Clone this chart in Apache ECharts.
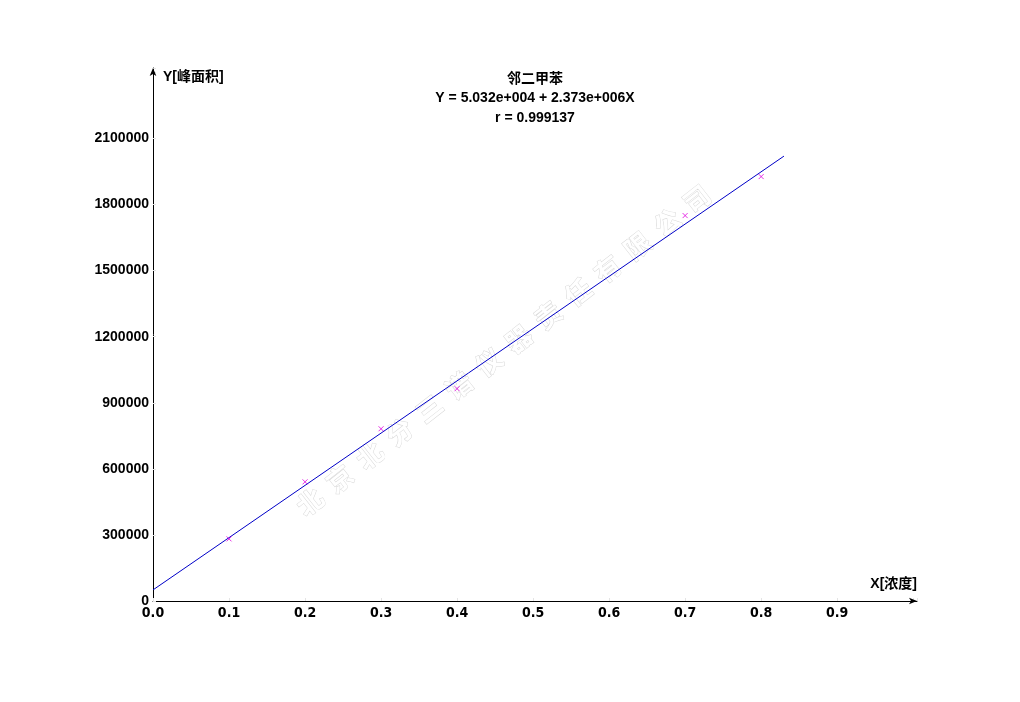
<!DOCTYPE html>
<html>
<head>
<meta charset="utf-8">
<script src="https://cdn.jsdelivr.net/npm/echarts@6/dist/echarts.min.js"></script>
<style>
  html, body { margin: 0; padding: 0; background: #fff; }
  #chart { width: 1020px; height: 702px; }
</style>
</head>
<body>
<div id="chart"></div>
<script>
// Calibration samples: concentration vs. peak area
const concentrations = [0.1, 0.2, 0.3, 0.4, 0.7, 0.8];
const peakAreas = [282000, 541000, 782000, 964000, 1750000, 1927000];

// Least-squares fit as reported in the header
const fitIntercept = 50320;
const fitSlope = 2373000;
const fitR = 0.999137;
const fitRange = [0, 0.83];

const yTickLabels = [0, 300000, 600000, 900000, 1200000, 1500000, 1800000, 2100000];
const xTickLabels = [0.0, 0.1, 0.2, 0.3, 0.4, 0.5, 0.6, 0.7, 0.8, 0.9];

const titleText = '邻二甲苯';
const watermarkText = '北京北分三谱仪器责任有限公司';

const latin = '"Liberation Sans", Arial, "Noto Sans CJK SC", sans-serif';
const narrow = '"DejaVu Sans Condensed", "Liberation Sans Narrow", "Liberation Sans", sans-serif';

const chart = echarts.init(document.getElementById('chart'));

const points = concentrations.map((x, i) => [x, peakAreas[i]]);
const fitLine = fitRange.map(x => [x, fitIntercept + fitSlope * x]);

function expFmt(v) {
  const e = Math.floor(Math.log10(Math.abs(v)));
  const m = (v / Math.pow(10, e)).toFixed(3);
  return m + 'e+' + String(e).padStart(3, '0');
}

// Faint outlined watermark along a diagonal
const wmChars = watermarkText.split('');
const wmStart = [310, 502];
const wmEnd = [697, 199];
const wmAngle = Math.atan2(wmStart[1] - wmEnd[1], wmEnd[0] - wmStart[0]);
const watermark = wmChars.map((ch, i) => {
  const t = i / (wmChars.length - 1);
  return {
    type: 'text',
    x: wmStart[0] + (wmEnd[0] - wmStart[0]) * t,
    y: wmStart[1] + (wmEnd[1] - wmStart[1]) * t,
    rotation: wmAngle,
    z: -10,
    style: {
      text: ch,
      fill: '#ffffff',
      stroke: '#d8d8d8',
      lineWidth: 1,
      font: 'bold 26px "Noto Sans CJK SC"',
      align: 'center',
      verticalAlign: 'middle'
    }
  };
});

chart.setOption({
  backgroundColor: '#ffffff',
  animation: false,
  title: {
    text: titleText,
    subtext: 'Y = ' + expFmt(fitIntercept) + ' + ' + expFmt(fitSlope) + 'X\nr = ' + fitR.toFixed(6),
    left: 530,
    top: 66,
    textAlign: 'center',
    itemGap: 3,
    textStyle: { fontFamily: '"Noto Sans CJK SC"', fontWeight: 'bold', fontSize: 14, color: '#000' },
    subtextStyle: { fontFamily: latin, fontWeight: 'bold', fontSize: 14, color: '#000', lineHeight: 20 }
  },
  graphic: watermark,
  grid: { left: 153, right: 103, top: 68, bottom: 101, containLabel: false },
  xAxis: {
    type: 'value',
    min: 0,
    max: 1.005,
    interval: 0.1,
    name: 'X[浓度]',
    nameLocation: 'end',
    nameGap: 0,
    nameTextStyle: {
      fontFamily: latin, fontWeight: 'bold', fontSize: 14, color: '#000',
      align: 'right', verticalAlign: 'bottom', padding: [0, 0, 10, 0]
    },
    axisLine: { show: true, symbol: ['none', 'arrow'], symbolSize: [5, 8], lineStyle: { color: '#000', width: 1 } },
    axisTick: { show: true, inside: true, length: 3, lineStyle: { color: '#e4e4e4' } },
    splitLine: { show: false },
    axisLabel: {
      margin: 5,
      fontFamily: narrow, fontWeight: 'bold', fontSize: 14, color: '#000',
      formatter: v => {
        const hit = xTickLabels.find(t => Math.abs(t - v) < 1e-6);
        return hit === undefined ? '' : hit.toFixed(1);
      }
    }
  },
  yAxis: {
    type: 'value',
    min: 0,
    max: 2420000,
    interval: 300000,
    name: 'Y[峰面积]',
    nameLocation: 'end',
    nameGap: -9,
    nameTextStyle: {
      fontFamily: latin, fontWeight: 'bold', fontSize: 14, color: '#000',
      align: 'left', verticalAlign: 'middle', padding: [0, 0, 0, 10]
    },
    axisLine: { show: true, symbol: ['none', 'arrow'], symbolSize: [5, 8], lineStyle: { color: '#000', width: 1 } },
    axisTick: { show: true, inside: true, length: 3, lineStyle: { color: '#e4e4e4' } },
    splitLine: { show: false },
    axisLabel: {
      margin: 4,
      fontFamily: latin, fontWeight: 'bold', fontSize: 14, color: '#000',
      formatter: v => (yTickLabels.indexOf(v) >= 0 ? String(v) : '')
    }
  },
  series: [
    {
      type: 'line',
      data: fitLine,
      symbol: 'none',
      lineStyle: { color: '#0000c8', width: 1 },
      z: 2
    },
    {
      type: 'scatter',
      data: points,
      symbol: 'path://M0,0L10,10M10,0L0,10',
      symbolSize: 5,
      itemStyle: { color: 'none', borderColor: '#e000e0', borderWidth: 1 },
      z: 3
    }
  ]
});
</script>
</body>
</html>
